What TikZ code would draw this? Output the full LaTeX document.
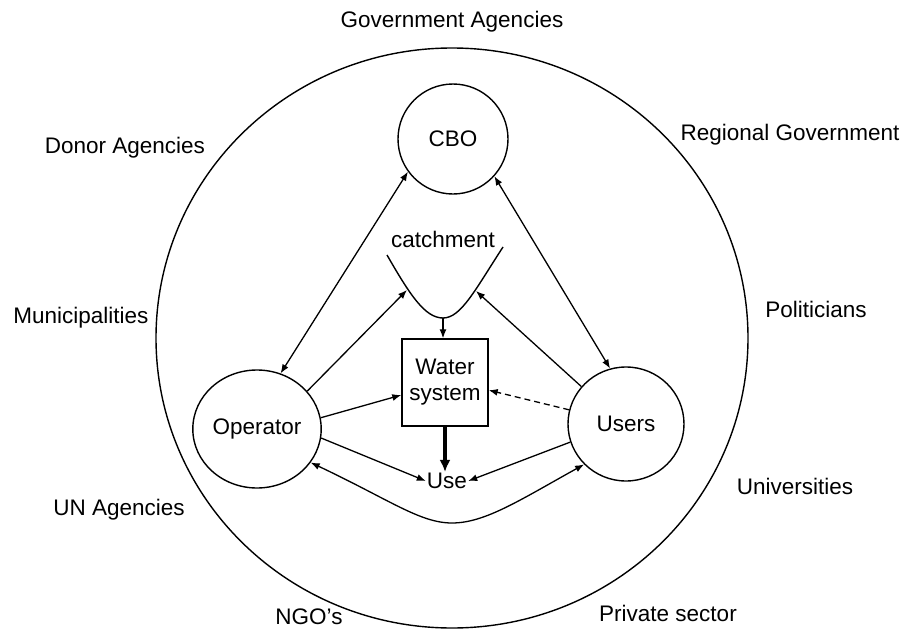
\documentclass[tikz,border=0pt]{standalone}
\usepackage{fontspec}
\setmainfont{Liberation Sans}
\usetikzlibrary{arrows.meta,shapes.geometric,calc}
\begin{document}
\begin{tikzpicture}[x=1pt,y=-1pt,
  txt/.style={font=\fontsize{22.5}{26}\selectfont, inner sep=1pt},
  actor/.style={txt, draw, ellipse, line width=1.4pt},
  conn/.style={line width=1.3pt, {Latex[length=9pt,width=7pt]}-{Latex[length=9pt,width=7pt]}},
  oneway/.style={line width=1.3pt, -{Latex[length=9pt,width=7pt]}},
  thickarr/.style={line width=3.2pt, -{Latex[length=12pt,width=11pt]}},
  dasharr/.style={line width=1.3pt, dash pattern=on 6pt off 4pt, -{Latex[length=9pt,width=7pt]}}
]
\useasboundingbox (0,0) rectangle (903,629);
% outer boundary
\draw[line width=1.4pt] (452,338) ellipse [x radius=296, y radius=290];
% outer labels
\node[txt] (gov) at (452,22) {Government Agencies};
\node[txt] (donor) at (125,148) {Donor Agencies};
\node[txt] (muni) at (81,318) {Municipalities};
\node[txt] (un) at (119,510) {UN Agencies};
\node[txt] (ngo) at (309,617) {NGO's};
\node[txt] (reg) at (790,135) {Regional Government};
\node[txt] (pol) at (816,309) {Politicians};
\node[txt] (uni) at (795,486) {Universities};
\node[txt] (priv) at (668,613) {Private sector};
% inner nodes
\node[actor, circle, minimum size=110pt] (cbo) at (453,139) {CBO};
\node[actor, minimum width=128pt, minimum height=118pt] (op) at (257,429) {Operator};
\node[actor, minimum width=116pt, minimum height=114pt] (users) at (626,424) {Users};
\node[txt, draw, line width=1.4pt, align=center, minimum width=86pt, minimum height=87pt] (ws) at (445,382.5) {Water\\system};
\node[txt] (use) at (447,481) {Use};
\node[txt] (catch) at (443,239) {catchment};
% catchment curve
\coordinate (cTL) at (387,255);
\coordinate (cB) at (443,318);
\coordinate (cTR) at (503,247);
\coordinate (cL) at (407,290);
\coordinate (cR) at (476,291);
\draw[line width=1.4pt] (cTL) .. controls (410,295) and (425,318) .. (cB) .. controls (461,318) and (475,290) .. (cTR);
% connectors
\draw[conn] (cbo.216) -- (op.67);
\draw[conn] (cbo.318) -- (users.106);
\draw[oneway] (op.37) -- (cL);
\draw[oneway] (users.140) -- (cR);
\draw[oneway] (cB) -- (cB |- ws.north);
\draw[oneway] (op.10) -- (ws.196);
\draw[dasharr] (users.166) -- (ws.350);
\draw[thickarr] (ws.south) -- (ws.south |- use.north);
\draw[oneway] (op.352) -- (use.west);
\draw[oneway] (users.198) -- (use.east);
\draw[conn] (op.328) .. controls (390,500) and (420,523) .. (452,523) .. controls (485,523) and (520,500) .. (users.224);
\end{tikzpicture}
\end{document}
